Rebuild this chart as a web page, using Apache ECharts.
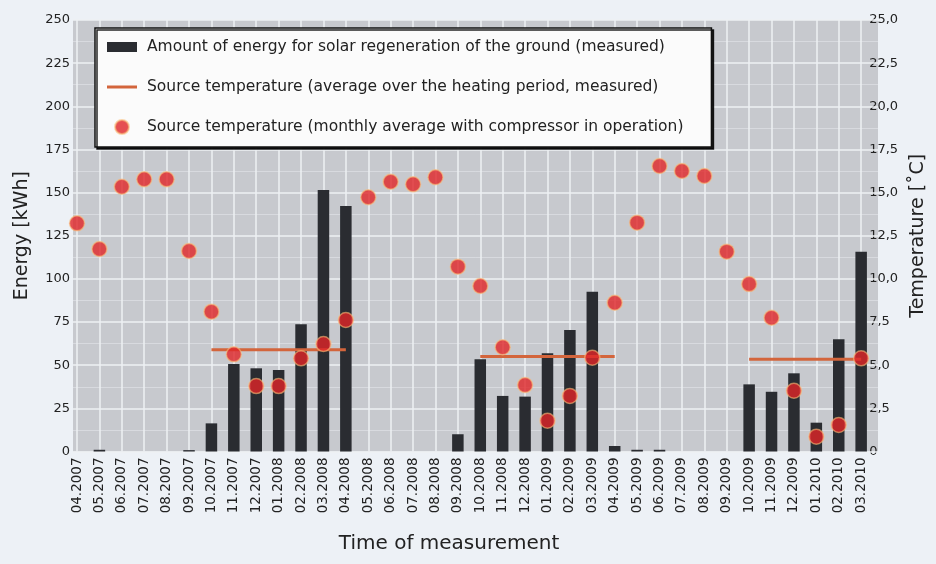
<!DOCTYPE html>
<html>
<head>
<meta charset="utf-8">
<script src="https://cdn.jsdelivr.net/npm/echarts@6/dist/echarts.min.js"></script>
<style>
html,body{margin:0;padding:0;background:#edf1f6;}
#chart{width:936px;height:564px;}
</style>
</head>
<body>
<div id="chart"></div>
<script>
const categories = ['04.2007','05.2007','06.2007','07.2007','08.2007','09.2007','10.2007','11.2007','12.2007',
  '01.2008','02.2008','03.2008','04.2008','05.2008','06.2008','07.2008','08.2008','09.2008','10.2008','11.2008','12.2008',
  '01.2009','02.2009','03.2009','04.2009','05.2009','06.2009','07.2009','08.2009','09.2009','10.2009','11.2009','12.2009',
  '01.2010','02.2010','03.2010'];

const energyKWh = [0, 1.0, 0, 0, 0, 0.8, 16.3, 50.7, 48.2,
  47.2, 73.7, 151.5, 142.2, 0, 0, 0, 0, 10.0, 53.4, 32.2, 31.8,
  56.9, 70.4, 92.6, 3.2, 1.0, 1.0, 0, 0, 0, 38.9, 34.6, 45.3,
  16.7, 65.0, 115.8];

const monthlyTemp = [13.22, 11.73, 15.34, 15.77, 15.77, 11.62, 8.1, 5.63, 3.79,
  3.79, 5.4, 6.23, 7.62, 14.73, 15.63, 15.48, 15.89, 10.71, 9.59, 6.04, 3.85,
  1.78, 3.22, 5.43, 8.62, 13.26, 16.54, 16.25, 15.96, 11.58, 9.7, 7.75, 3.52,
  0.86, 1.54, 5.4];

const periodStart = ['10.2007', '10.2008', '10.2009'];
const periodEnd   = ['04.2008', '04.2009', '03.2010'];
const periodAvgTemp = [5.9, 5.5, 5.35];

const energyTickLabels = ['0','25','50','75','100','125','150','175','200','225','250'];
const tempTickLabels = ['0','2,5','5,0','7,5','10,0','12,5','15,0','17,5','20,0','22,5','25,0'];

const seriesNames = [
  'Amount of energy for solar regeneration of the ground (measured)',
  'Source temperature (average over the heating period, measured)',
  'Source temperature (monthly average with compressor in operation)'
];

// build the heating-period average line (null outside periods)
const avgLine = categories.map(() => null);
periodStart.forEach((s, k) => {
  const a = categories.indexOf(s), b = categories.indexOf(periodEnd[k]);
  for (let i = a; i <= b; i++) avgLine[i] = periodAvgTemp[k];
});

const FONT = 'DejaVu Sans';
const chart = echarts.init(document.getElementById('chart'), null, {renderer: 'canvas'});

chart.setOption({
  animation: false,
  backgroundColor: '#edf1f6',
  textStyle: {fontFamily: FONT},
  grid: [
    {left: 77, right: 62, top: 20, bottom: 112.5, show: false},
    {left: 73, right: 58, top: 20, bottom: 112.5, show: true, backgroundColor: '#c7c9ce', borderWidth: 0, z: 0}
  ],
  xAxis: [
    {
      type: 'category', gridIndex: 0, data: categories, boundaryGap: false, z: 1,
      name: 'Time of measurement', nameLocation: 'middle', nameGap: 82,
      nameTextStyle: {fontSize: 20, color: '#222', fontFamily: FONT, padding: [0, 40, 0, 0]},
      axisLine: {show: false}, axisTick: {show: false},
      axisLabel: {interval: 0, rotate: 90, fontSize: 13.5, color: '#222', margin: 6, fontFamily: FONT},
      splitLine: {show: true, interval: 0, lineStyle: {color: '#eef0f3', width: 1.5}}
    },
    {type: 'value', gridIndex: 1, show: false, min: 0, max: 1}
  ],
  yAxis: [
    {
      type: 'value', gridIndex: 0, min: 0, max: 250, interval: 25, position: 'left',
      name: 'Energy [kWh]', nameLocation: 'middle', nameGap: 45, nameRotate: 90,
      nameTextStyle: {fontSize: 19, color: '#222', fontFamily: FONT},
      axisLine: {show: false}, axisTick: {show: false},
      axisLabel: {fontSize: 13, color: '#222', margin: 7, fontFamily: FONT,
        formatter: v => energyTickLabels[Math.round(v / 25)]},
      splitLine: {show: false}
    },
    {
      type: 'value', gridIndex: 0, min: 0, max: 25, interval: 2.5, position: 'right',
      name: 'Temperature [˚C]', nameLocation: 'middle', nameGap: 47, nameRotate: 90,
      nameTextStyle: {fontSize: 19, color: '#222', fontFamily: FONT},
      axisLine: {show: false}, axisTick: {show: false},
      axisLabel: {fontSize: 13, color: '#222', margin: 8, fontFamily: FONT,
        formatter: v => tempTickLabels[Math.round(v / 2.5)]},
      splitLine: {show: false}
    },
    {
      type: 'value', gridIndex: 1, min: 0, max: 250, interval: 25, z: 1,
      axisLine: {show: false}, axisTick: {show: false}, axisLabel: {show: false},
      splitLine: {show: true, lineStyle: {color: '#eef0f3', width: 1.5}},
      minorTick: {show: false, splitNumber: 2},
      minorSplitLine: {show: true, lineStyle: {color: 'rgba(238,240,243,0.45)', width: 1}}
    }
  ],
  legend: {
    orient: 'vertical', left: 95, top: 28,
    itemWidth: 30, itemHeight: 14, itemGap: 24,
    padding: [11, 28, 12, 12],
    symbolKeepAspect: true,
    backgroundColor: '#fbfbfb', borderColor: '#111', borderWidth: 1.5,
    shadowColor: 'rgba(0,0,0,0.85)', shadowOffsetX: 2, shadowOffsetY: 2, shadowBlur: 0,
    textStyle: {fontSize: 15.5, color: '#222', fontFamily: FONT, padding: [0, 0, 0, 5]},
    data: [
      {name: seriesNames[0], icon: 'path://M0,0h30v10h-30z'},
      {name: seriesNames[1], icon: 'path://M0,0h30v3h-30z', itemStyle: {color: '#d3653c'}},
      {name: seriesNames[2], icon: 'circle'}
    ]
  },
  series: [
    {
      name: seriesNames[0], type: 'bar', xAxisIndex: 0, yAxisIndex: 0,
      data: energyKWh, barWidth: 11.5, clip: false, z: 2,
      itemStyle: {color: '#2a2c31'}
    },
    {
      name: seriesNames[1], type: 'line', xAxisIndex: 0, yAxisIndex: 1,
      data: avgLine, connectNulls: false, showSymbol: false, symbol: 'none', z: 3,
      lineStyle: {color: '#d3653c', width: 3}, itemStyle: {color: '#d3653c'}
    },
    {
      name: seriesNames[2], type: 'scatter', xAxisIndex: 0, yAxisIndex: 1,
      data: monthlyTemp, symbolSize: 15, clip: false, z: 4,
      itemStyle: {color: '#e02628', borderColor: 'rgba(250,190,120,0.75)', borderWidth: 1.5}
    }
  ]
});
</script>
</body>
</html>
